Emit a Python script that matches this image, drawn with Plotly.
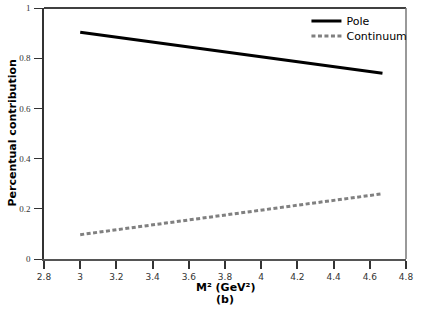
import plotly.graph_objects as go

m2 = [3.0, 3.5, 4.0, 4.5, 4.67]
pole = [0.903, 0.854, 0.805, 0.757, 0.740]
continuum = [0.097, 0.146, 0.195, 0.243, 0.260]

x_ticks = [2.8, 3, 3.2, 3.4, 3.6, 3.8, 4, 4.2, 4.4, 4.6, 4.8]
x_ticktext = ["2.8", "3", "3.2", "3.4", "3.6", "3.8", "4", "4.2", "4.4", "4.6", "4.8"]
y_ticks = [0, 0.2, 0.4, 0.6, 0.8, 1]
y_ticktext = ["0", "0.2", "0.4", "0.6", "0.8", "1"]
x_title = "M² (GeV²)"
x_subtitle = "(b)"
y_title = "Percentual contribution"

fig = go.Figure()
fig.add_trace(go.Scatter(x=m2, y=pole, mode="lines", name="Pole", legend="legend",
                         line=dict(color="black", width=3)))
fig.add_trace(go.Scatter(x=m2, y=continuum, mode="lines", name="Continuum", legend="legend2",
                         line=dict(color="#808080", width=3, dash="4px,2.5px")))

leg_common = dict(xanchor="left", yanchor="middle", bgcolor="rgba(0,0,0,0)",
                  font=dict(family="DejaVu Sans", size=11, color="black"), itemwidth=30)
fig.update_layout(
    width=444, height=318,
    margin=dict(l=44, r=38, t=8, b=59, autoexpand=False),
    plot_bgcolor="white", paper_bgcolor="white",
    showlegend=True,
    legend=dict(x=0.725, y=1 - 13 / 251, **leg_common),
    legend2=dict(x=0.725, y=1 - 28 / 251, **leg_common),
    font=dict(family="DejaVu Sans", color="black"),
)
fig.update_xaxes(range=[2.8, 4.8], tickvals=x_ticks, ticktext=x_ticktext, automargin=False,
                 showgrid=False, zeroline=False, showline=True, linecolor="#555555", linewidth=2,
                 mirror=False, ticks="outside", ticklen=8, tickwidth=1.5, tickcolor="#333333",
                 ticklabelstandoff=0,
                 tickfont=dict(family="DejaVu Sans", size=9, color="#333333"))
fig.update_yaxes(range=[0, 1], tickvals=y_ticks, ticktext=y_ticktext, automargin=False,
                 showgrid=False, zeroline=False, showline=True, linecolor="#333333", linewidth=1.5,
                 ticks="outside", ticklen=8, tickwidth=1, tickcolor="#333333",
                 ticklabelstandoff=2,
                 tickfont=dict(family="Liberation Serif", size=9, color="#333333"))

fig.add_annotation(text=f"<b>{x_title}</b>", xref="paper", yref="paper",
                   x=0.5, y=(259 - 287.5) / 251, xanchor="center", yanchor="middle",
                   showarrow=False, font=dict(family="DejaVu Sans", size=11, color="black"))
fig.add_annotation(text=f"<b>{x_subtitle}</b>", xref="paper", yref="paper",
                   x=0.5, y=(259 - 299.5) / 251, xanchor="center", yanchor="middle",
                   showarrow=False, font=dict(family="DejaVu Sans", size=11, color="black"))
fig.add_annotation(text=f"<b>{y_title}</b>", xref="paper", yref="paper", textangle=-90,
                   x=(12 - 44) / 362, y=0.5, xanchor="center", yanchor="middle",
                   showarrow=False, font=dict(family="DejaVu Sans", size=11, color="black"))

# top and right borders
fig.add_shape(type="line", xref="paper", yref="paper", x0=0, x1=1, y0=1, y1=1,
              line=dict(color="black", width=1.5))
fig.add_shape(type="line", xref="paper", yref="paper", x0=1, x1=1, y0=0, y1=1,
              line=dict(color="#777777", width=1.5))

fig.write_html("out.html", config={"displayModeBar": False},
               post_script="document.body.style.margin='0';document.body.style.padding='0';")
